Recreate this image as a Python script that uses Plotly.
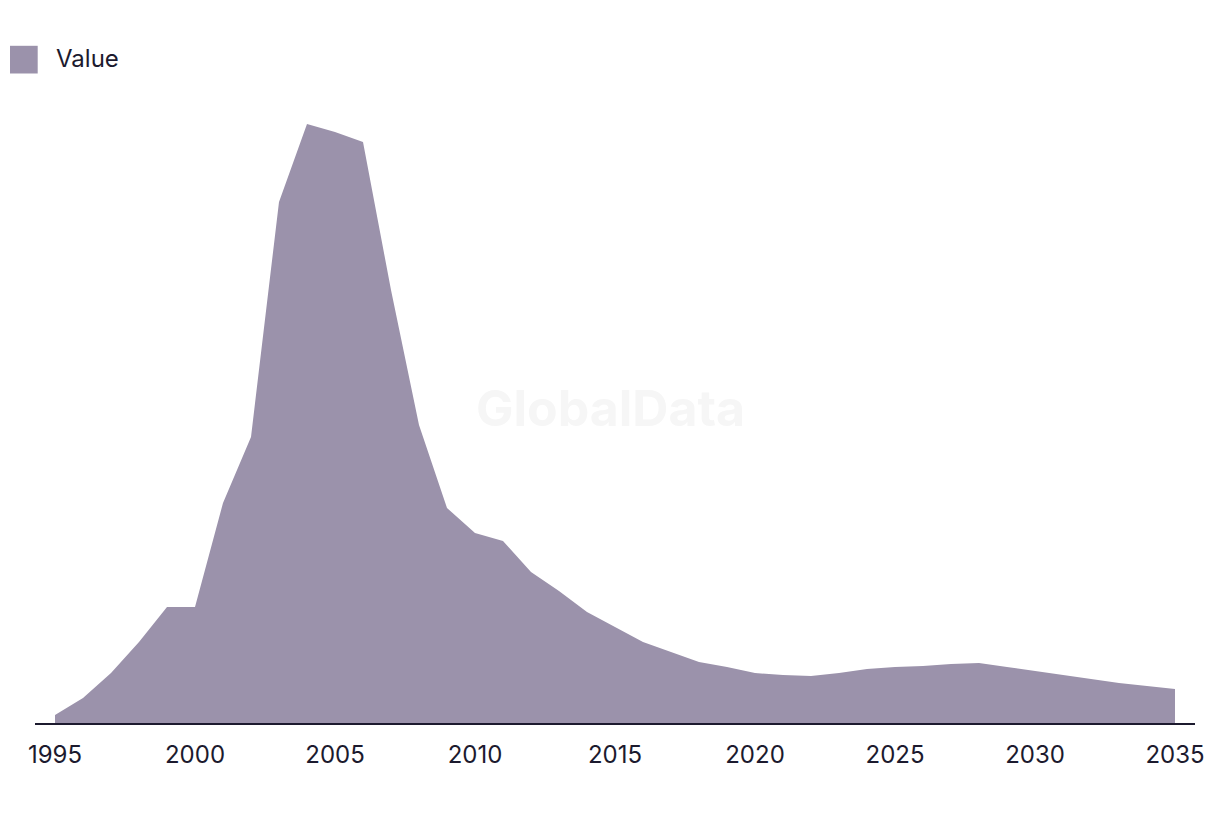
import plotly.graph_objects as go

years = list(range(1995, 2036))
values = [8, 25, 50, 81, 116, 116, 220, 286, 521, 599, 591, 581, 433, 298, 215,
          190, 182, 151, 132, 111, 96, 81, 71, 61, 56, 50, 48, 47, 50, 54,
          56, 57, 59, 60, 56, 52, 48, 44, 40, 37, 34]
tick_vals = [1995, 2000, 2005, 2010, 2015, 2020, 2025, 2030, 2035]
tick_text = [str(t) for t in tick_vals]
series_name = "Value"

fill_color = "#9b92ab"
ink = "#1c1a2e"

# page body has an 8px margin; compensate so the plot lands where the reference does
W, H = 1212, 806
L, R, T, B = 27, 25, 92, 91
PW, PH = W - L - R, H - T - B


def px(x):  # page-x -> paper fraction
    return (x - 8 - L) / PW


def py(y):  # page-y -> paper fraction
    return (H - B - (y - 8)) / PH


fig = go.Figure()
fig.add_trace(go.Scatter(
    x=years, y=values, mode="lines", fill="tozeroy",
    line=dict(width=0, color=fill_color), fillcolor=fill_color,
    name=series_name, showlegend=False, hoverinfo="x+y",
))

fig.update_layout(
    width=W, height=H,
    margin=dict(l=L, r=R, t=T, b=B),
    paper_bgcolor="white", plot_bgcolor="white",
    font=dict(family="Inter", color=ink),
    xaxis=dict(
        range=[1995 - 20 / 28, 2035 + 20 / 28],
        tickvals=tick_vals, ticktext=tick_text,
        showgrid=False, zeroline=False,
        showline=True, linecolor=ink, linewidth=2,
        ticks="outside", ticklen=9, tickcolor="rgba(0,0,0,0)",
        tickfont=dict(size=24, color=ink, family="Inter"),
    ),
    yaxis=dict(range=[0, PH], visible=False),
    shapes=[dict(type="rect", xref="paper", yref="paper",
                 x0=px(10), x1=px(37.7), y0=py(73.5), y1=py(45.8),
                 fillcolor=fill_color, line=dict(width=0))],
    annotations=[
        dict(text=series_name, xref="paper", yref="paper",
             x=px(53.5), y=py(58), xanchor="left", yanchor="middle",
             showarrow=False, font=dict(size=24, color=ink, family="Inter")),
        dict(text="<b>GlobalData</b>", xref="paper", yref="paper",
             x=px(610), y=py(408), xanchor="center", yanchor="middle",
             showarrow=False, font=dict(size=50, color="#f6f6f6", family="Inter")),
    ],
)

fig.write_html("out.html")
